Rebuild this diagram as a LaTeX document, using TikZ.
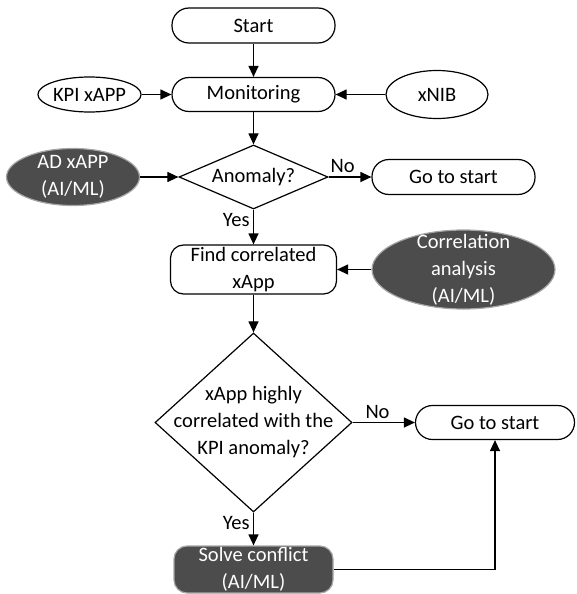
\documentclass[tikz,border=0pt]{standalone}
\usepackage{fontspec}
\setmainfont{Carlito}
\usetikzlibrary{shapes.geometric,arrows.meta}

\begin{document}
\begin{tikzpicture}[
		x = 1pt,
		y = -1pt,
		font = \fontsize{20.5}{27}\selectfont,
		line width = 1.2pt,
		arr/.style = {
			-{Triangle[length = 11pt, width = 10pt]}
		},
		term/.style = {
			draw,
			rectangle,
			rounded corners = 17pt,
			inner sep = 0,
			minimum width = 163pt,
			minimum height = 35pt
		},
		proc/.style = {
			draw,
			rectangle,
			rounded corners = 13pt,
			inner sep = 0,
			align = center,
			minimum width = 166pt,
			minimum height = 49pt
		},
		src/.style = {
			draw,
			ellipse,
			inner sep = 0
		},
		ai/.style = {
			draw = black!35,
			fill = black!70,
			text = white
		},
		dec/.style = {
			draw,
			diamond,
			inner sep = 0
		},
		txt/.style = {
			inner sep = 0,
			align = center
		}
	]
	\useasboundingbox (0, 0) rectangle (576, 594);

	\node [term] (start) at (253.5, 25.5) {Start};
	\node [term, minimum height = 34pt] (mon) at (253.5, 94.5) {Monitoring};
	\node [src, minimum width = 101pt, minimum height = 35pt] (kpi) at (89.5, 94.5) {KPI xAPP};
	\node [src, minimum width = 102pt, minimum height = 48pt] (xnib) at (437, 94.5) {xNIB};

	\node [dec, minimum width = 149pt, minimum height = 64pt] (anom) at (253.5, 177) {};
	\node [txt] (anom-t) at (anom) {Anomaly?};
	\node [src, ai, minimum width = 133pt, minimum height = 57pt] (ad) at (73, 177) {};
	\node [txt, text = white] (ad-t) at (ad) {AD xAPP\\(AI/ML)};
	\node [term] (go1) at (453.5, 177) {Go to start};

	\node [proc] (find) at (253.5, 269.5) {Find correlated\\xApp};
	\node [src, ai, minimum width = 183pt, minimum height = 79pt] (corr) at (463.5, 269.5) {};
	\node [txt, text = white] (corr-t) at (corr) {Correlation\\analysis\\(AI/ML)};

	\node [dec, minimum width = 197pt, minimum height = 179pt] (hi) at (253.5, 422.5) {};
	\node [txt] (hi-t) at (hi) {xApp highly\\correlated with the\\KPI anomaly?};
	\node [term, minimum width = 159pt, minimum height = 34pt] (go2) at (495, 422.5) {Go to start};
	\node [proc, ai, minimum width = 159pt, minimum height = 47pt] (solve) at (253.5, 569.5) {Solve conflict\\(AI/ML)};

	\draw [arr] (start) -- (mon);
	\draw [arr] (kpi) -- (mon);
	\draw [arr] (xnib) -- (mon);
	\draw [arr] (mon) -- (anom);
	\draw [arr] (ad) -- (anom);
	\draw [arr] (anom) -- node [above, pos = 0.33] {No} (go1);
	\draw [arr] (anom) -- node [left, pos = 0.3] {Yes} (find);
	\draw [arr] (corr) -- (find);
	\draw [arr] (find) -- (hi);
	\draw [arr] (hi) -- node [above, pos = 0.4] {No} (go2);
	\draw [arr] (hi) -- node [left, pos = 0.32] {Yes} (solve);
	\draw [arr] (solve) -| (go2);
\end{tikzpicture}
\end{document}
